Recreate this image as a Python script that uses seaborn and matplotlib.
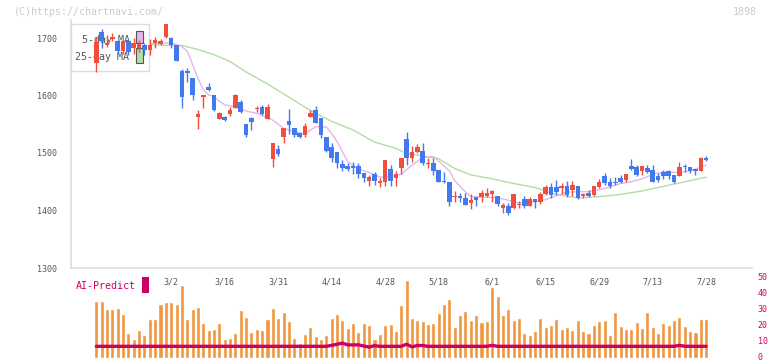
import numpy as np
import matplotlib
matplotlib.use("Agg")
import matplotlib.pyplot as plt
import seaborn as sns
from matplotlib.patches import Rectangle
from matplotlib.transforms import ScaledTranslation

# daily candles
opens = [1656, 1711, 1688, 1699, 1694, 1678, 1694, 1682, 1683, 1687, 1679, 1692, 1689, 1701, 1700,
         1688, 1643, 1643, 1630, 1562, 1598, 1614, 1601, 1560, 1563, 1567, 1579, 1589, 1550, 1560,
         1577, 1580, 1559, 1489, 1507, 1528, 1556, 1544, 1535, 1531, 1563, 1574, 1561, 1528, 1511,
         1502, 1481, 1477, 1478, 1478, 1466, 1451, 1463, 1447, 1450, 1472, 1457, 1474, 1524, 1491,
         1501, 1503, 1481, 1482, 1470, 1450, 1449, 1423, 1425, 1421, 1413, 1424, 1424, 1426, 1429,
         1426, 1405, 1408, 1404, 1409, 1420, 1408, 1420, 1414, 1429, 1441, 1441, 1439, 1443, 1435,
         1443, 1425, 1430, 1427, 1441, 1460, 1450, 1449, 1456, 1453, 1478, 1476, 1469, 1474, 1470,
         1460, 1467, 1469, 1462, 1460, 1478, 1475, 1472, 1469, 1492]
highs = [1702, 1715, 1705, 1708, 1697, 1696, 1697, 1700, 1697, 1691, 1699, 1701, 1698, 1724, 1701,
         1688, 1646, 1647, 1630, 1575, 1601, 1621, 1601, 1571, 1565, 1580, 1603, 1592, 1550, 1563,
         1582, 1584, 1586, 1518, 1514, 1544, 1577, 1544, 1535, 1552, 1575, 1581, 1561, 1528, 1518,
         1502, 1487, 1483, 1485, 1483, 1466, 1462, 1467, 1456, 1488, 1479, 1468, 1491, 1537, 1513,
         1515, 1517, 1491, 1491, 1470, 1467, 1449, 1434, 1431, 1431, 1429, 1424, 1436, 1439, 1435,
         1426, 1413, 1413, 1429, 1416, 1425, 1424, 1420, 1432, 1445, 1447, 1453, 1447, 1451, 1451,
         1443, 1431, 1435, 1443, 1455, 1466, 1456, 1459, 1461, 1464, 1490, 1479, 1477, 1480, 1480,
         1466, 1471, 1470, 1462, 1485, 1481, 1475, 1472, 1493, 1495]
lows = [1641, 1682, 1684, 1694, 1672, 1672, 1670, 1672, 1676, 1670, 1670, 1682, 1687, 1700, 1682,
        1660, 1579, 1624, 1592, 1541, 1579, 1607, 1573, 1560, 1555, 1565, 1578, 1569, 1528, 1540,
        1572, 1566, 1559, 1476, 1494, 1518, 1533, 1528, 1526, 1528, 1563, 1552, 1526, 1501, 1485,
        1474, 1469, 1469, 1463, 1456, 1449, 1443, 1444, 1441, 1443, 1443, 1443, 1463, 1479, 1484,
        1500, 1480, 1474, 1462, 1449, 1448, 1408, 1414, 1414, 1410, 1402, 1408, 1414, 1424, 1415,
        1407, 1396, 1393, 1402, 1405, 1404, 1407, 1405, 1412, 1427, 1421, 1427, 1429, 1424, 1426,
        1420, 1422, 1424, 1425, 1439, 1444, 1440, 1444, 1447, 1450, 1470, 1460, 1461, 1466, 1450,
        1450, 1455, 1455, 1448, 1460, 1467, 1465, 1461, 1469, 1486]
closes = [1693, 1694, 1692, 1702, 1678, 1694, 1676, 1691, 1690, 1680, 1688, 1696, 1695, 1724, 1687,
          1660, 1598, 1639, 1601, 1568, 1600, 1610, 1575, 1569, 1557, 1575, 1601, 1572, 1531, 1554,
          1578, 1567, 1580, 1518, 1498, 1544, 1548, 1532, 1528, 1547, 1570, 1553, 1531, 1503, 1492,
          1483, 1474, 1473, 1474, 1463, 1457, 1459, 1451, 1451, 1488, 1451, 1463, 1491, 1491, 1501,
          1510, 1482, 1483, 1469, 1449, 1449, 1415, 1425, 1421, 1410, 1418, 1418, 1431, 1431, 1434,
          1411, 1410, 1395, 1429, 1411, 1408, 1420, 1415, 1428, 1441, 1427, 1433, 1443, 1427, 1444,
          1422, 1429, 1426, 1443, 1449, 1447, 1443, 1447, 1450, 1463, 1473, 1461, 1477, 1467, 1450,
          1453, 1460, 1460, 1450, 1475, 1475, 1469, 1469, 1491, 1488]
volume = [35.8, 35.8, 30.6, 30.6, 31.5, 27.7, 15.8, 12.1, 17.5, 14.4, 24.4, 24.4, 34, 35, 35,
          34, 45.8, 24.4, 30.6, 31.9, 22.1, 17.5, 18.1, 22.1, 11.9, 12.7, 15.8, 30, 25.6, 16.5,
          18.1, 17.5, 24.4, 31.5, 25.2, 28.8, 23.1, 12.5, 9.4, 15.2, 19.4, 13.8, 12.1, 14.4, 25,
          27.7, 23.8, 18.8, 21.7, 16.3, 22.1, 20.6, 11.9, 15.2, 20.6, 21.5, 16.9, 33.1, 48.8, 25,
          23.8, 23.1, 21.5, 22.1, 28.3, 33.8, 36.9, 19.4, 26.9, 29.4, 23.8, 26.9, 22.7, 23.1, 44.6,
          38.9, 26.9, 30.6, 23.8, 25, 15.6, 14.4, 16.9, 25, 19.4, 20.6, 24.4, 18.1, 19.4, 17.5,
          23.8, 16.9, 15.6, 20.6, 23.1, 23.8, 14.4, 28.8, 20, 18.1, 18.1, 22.5, 18.8, 28.8, 19.4,
          15.6, 21.9, 20.6, 23.8, 25.6, 20, 16.9, 16.3, 24.4, 24.4]

# moving averages at these candle positions
ma5_idx = [10, 14, 16, 17, 18, 19, 20, 21, 22, 23, 24, 26, 28, 30, 32, 33, 35, 37, 39, 41, 43, 44,
           45, 46, 47, 49, 51, 53, 55, 57, 59, 61, 63, 64, 66, 67, 69, 70, 73, 75, 77, 79, 82, 84,
           86, 88, 92, 94, 96, 98, 100, 102, 104, 106, 108, 110, 112, 114]
ma5 = [1690, 1692, 1685, 1677, 1654, 1630, 1610, 1601, 1598, 1590, 1584, 1580, 1573, 1569, 1561,
       1557, 1543, 1537, 1533, 1546, 1545, 1534, 1520, 1502, 1485, 1472, 1466, 1458, 1459, 1463,
       1479, 1492, 1494, 1486, 1469, 1452, 1432, 1424, 1423, 1422, 1418, 1413, 1415, 1419, 1426,
       1432, 1433, 1436, 1441, 1447, 1450, 1455, 1463, 1467, 1466, 1467, 1472, 1479]
ma25_idx = [10, 16, 19, 22, 25, 28, 32, 36, 40, 44, 48, 52, 56, 58, 61, 64, 67, 70, 74, 78, 82,
            86, 90, 94, 98, 102, 106, 110, 114]
ma25 = [1688, 1687, 1680, 1671, 1659, 1641, 1620, 1597, 1574, 1555, 1540, 1519, 1508, 1499, 1495,
        1490, 1473, 1462, 1455, 1447, 1440, 1428, 1422, 1424, 1428, 1434, 1442, 1450, 1458]

ai_idx = [0, 43, 44, 45, 46, 47, 49, 50, 51, 52, 53, 57, 58, 59, 60, 61, 62, 73, 74, 75, 108, 109, 110, 114]
ai_val = [7.3, 7.3, 7.9, 8.6, 9.3, 8.2, 8.2, 7.5, 6.8, 7.7, 7.3, 7.3, 8.6, 7.0, 7.8, 7.8, 7.3, 7.3,
          7.9, 7.3, 7.3, 7.9, 7.3, 7.3]

date_idx = [14, 24, 34, 44, 54, 64, 74, 84, 94, 104, 114]
date_labels = ["3/2", "3/16", "3/31", "4/14", "4/28", "5/18", "6/1", "6/15", "6/29", "7/13", "7/28"]

RED = "#f04e3e"
BLUE = "#4379ef"
MAG = "#cc0066"
GRID = "#dddddd"
TXT = "#555555"

sns.set_style("white")
plt.rcParams["font.family"] = ["DejaVu Sans Mono"]

W, H = 772, 361
fig = plt.figure(figsize=(W / 100, H / 100), dpi=100)
ax = fig.add_axes([71 / W, 1 - 268 / H, (752 - 71) / W, (268 - 20) / H])
axv = fig.add_axes([71 / W, 1 - 358 / H, (752 - 71) / W, 80 / H])

xlim = ((71 - 96.3) / 5.35, (752 - 96.3) / 5.35)
idx = np.arange(len(closes))
o = np.array(opens)
c = np.array(closes)
up = c >= o
colors = np.where(up, RED, BLUE)

# moving averages under the legend box
sns.lineplot(x=ma25_idx, y=ma25, ax=ax, color="#b4dca4", lw=1, zorder=2)
sns.lineplot(x=ma5_idx, y=ma5, ax=ax, color="#e8b4ea", lw=1, zorder=2)

# legend box
ax.add_patch(Rectangle((70.5 / W, 1 - 71.3 / H), 78 / W, 47 / H, transform=fig.transFigure,
                       facecolor="white", edgecolor=GRID, lw=1, zorder=3, clip_on=False))
ax.text(82 / W, 1 - 40 / H, "5-day MA", transform=fig.transFigure, fontsize=7.2, color=TXT,
        va="center", zorder=4)
ax.text(75 / W, 1 - 57 / H, "25-day MA", transform=fig.transFigure, fontsize=7.2, color=TXT,
        va="center", zorder=4)
ax.add_patch(Rectangle((136 / W, 1 - 43.3 / H), 6.5 / W, 12.3 / H, transform=fig.transFigure,
                       facecolor="#e8b4ea", edgecolor="#555555", lw=0.8, zorder=4, clip_on=False))
ax.add_patch(Rectangle((136 / W, 1 - 63.3 / H), 6.5 / W, 15 / H, transform=fig.transFigure,
                       facecolor="#b4dca4", edgecolor="#555555", lw=0.8, zorder=4, clip_on=False))

# candles
ax.vlines(idx, lows, highs, colors=colors, lw=1, zorder=5)
body = np.maximum(np.abs(c - o), 1.8)
ax.bar(idx, body, bottom=np.minimum(o, c), width=0.85, color=colors, zorder=6, linewidth=0)

ax.set_xlim(*xlim)
ax.set_ylim(1300, 1300 + (268 - 20) / 0.575)
ax.set_yticks([1300, 1400, 1500, 1600, 1700])
ax.set_xticks(np.linspace(xlim[0], xlim[1], 12))
ax.set_xticklabels([])
ax.tick_params(axis="y", direction="out", length=8, width=1, color=GRID, labelsize=6,
               labelcolor=TXT, pad=2)
ax.tick_params(axis="x", direction="inout", length=6, width=1, color=GRID)
for s in ["top", "right"]:
    ax.spines[s].set_visible(False)
for s in ["left", "bottom"]:
    ax.spines[s].set_color(GRID)
    ax.spines[s].set_linewidth(1.2)
ax.set_xlabel("")
ax.set_ylabel("")

# volume + AI-Predict
sns.barplot(x=idx, y=volume, ax=axv, color="#f09640", width=0.75, native_scale=True,
            errorbar=None, saturation=1, zorder=2)
sns.lineplot(x=ai_idx, y=ai_val, ax=axv, color=MAG, lw=2.4, zorder=3)
axv.set_xlim(*xlim)
axv.set_ylim(0, 50)
axv.patch.set_alpha(0)
for s in axv.spines.values():
    s.set_visible(False)
axv.set_xticks([])
axv.yaxis.tick_right()
axv.set_yticks([0, 10, 20, 30, 40, 50])
axv.tick_params(axis="y", length=0, labelsize=6, labelcolor=MAG, pad=4)
lift = ScaledTranslation(0, 2 / 100, fig.dpi_scale_trans)
for lab in axv.get_yticklabels():
    lab.set_transform(lab.get_transform() + lift)
axv.set_xlabel("")
axv.set_ylabel("")
for i, lab in zip(date_idx, date_labels):
    axv.text(i, 47.5, lab, ha="center", va="center", fontsize=6, color=TXT)

fig.text(76 / W, 1 - 286 / H, "AI-Predict", color=MAG, fontsize=7.2, va="center")
fig.patches.append(Rectangle((142.3 / W, 1 - 292.7 / H), 6.7 / W, 16 / H, transform=fig.transFigure,
                             facecolor=MAG, edgecolor="none"))

fig.text(14 / W, 1 - 12 / H, "(C)https://chartnavi.com/", color="#cccccc", fontsize=7.2, va="center")
fig.text(757 / W, 1 - 12 / H, "1898", color="#cccccc", fontsize=7.2, va="center", ha="right")

fig.savefig("out.png", dpi=100)
